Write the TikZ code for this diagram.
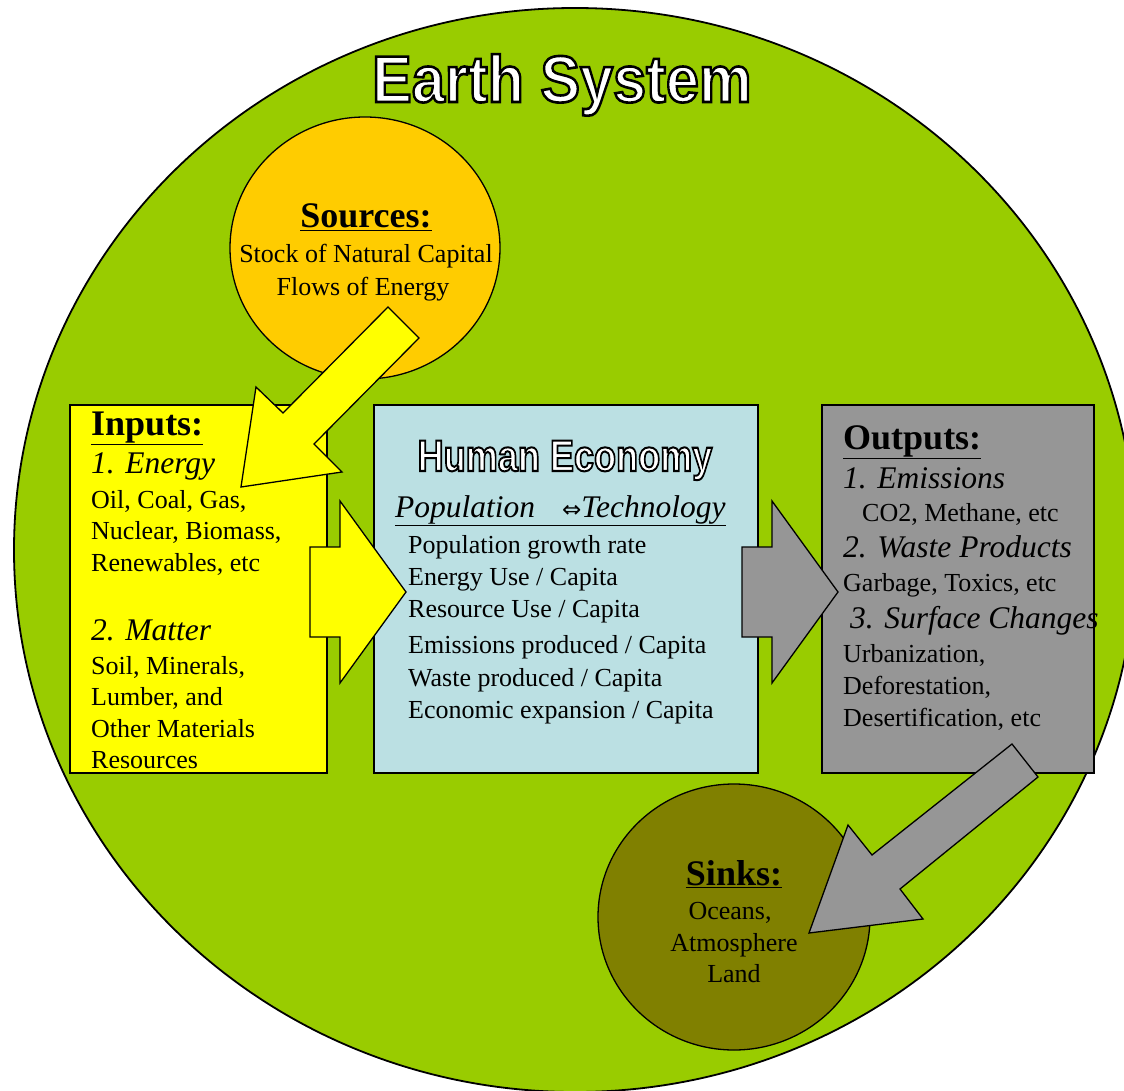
\documentclass[tikz,border=0pt]{standalone}
\usepackage{fontspec}
\setmainfont{Liberation Serif}
\newfontfamily\headfont{Liberation Sans}
\newfontfamily\symfont{DejaVu Sans}
\usetikzlibrary{shapes.geometric}

\definecolor{earthgreen}{HTML}{99CC00}
\definecolor{sourceorange}{HTML}{FFCC00}
\definecolor{inputyellow}{HTML}{FFFF00}
\definecolor{econblue}{HTML}{BBE0E3}
\definecolor{outputgray}{HTML}{969696}
\definecolor{sinkolive}{HTML}{808000}

\newcommand{\bodyfont}{\fontsize{26}{30}\selectfont}
\newcommand{\itemfont}{\fontsize{31.5}{36}\selectfont\itshape}
\newcommand{\titlefont}{\fontsize{36}{40}\selectfont\bfseries}
% white letters with a black rim
\newcommand{\rimtext}[2]{\special{pdf:literal direct 2 Tr #1 w 0 0 0 RG}#2\special{pdf:literal direct 0 Tr}}

\begin{document}
\begin{tikzpicture}[x=1pt, y=-1pt,
    box/.style={rectangle, draw, line width=1.3pt, inner sep=0},
    blob/.style={ellipse, draw, line width=1.3pt, inner sep=0},
    blockarrow/.style={draw, line width=1.3pt, line join=miter},
    body/.style={anchor=base west, inner sep=0, font=\bodyfont},
    item/.style={anchor=base west, inner sep=0, font=\itemfont},
    heading/.style={anchor=base, inner sep=0, font=\titlefont},
    centred/.style={anchor=base, inner sep=0, font=\bodyfont}
]
    \useasboundingbox (0,0) rectangle (1124,1091);
    \clip (0,0) rectangle (1124,1091);

    % Earth
    \draw[fill=earthgreen, line width=1.8pt] (575,550) ellipse [x radius=561, y radius=542];
    \node[text=white, anchor=base, inner sep=0] (earth) at (562,102)
        {\headfont\bfseries\fontsize{66}{70}\selectfont\scalebox{0.9}[1]{\rimtext{2.6}{Earth System}}};

    % Sources and sinks
    \node[blob, fill=sourceorange, minimum width=270, minimum height=262] (sources) at (365,248) {};
    \node[blob, fill=sinkolive, minimum width=272, minimum height=266] (sinks) at (734,917) {};

    % Boxes
    \node[box, fill=inputyellow, minimum width=257, minimum height=368] (inputs) at (198.5,589) {};
    \node[box, fill=econblue, minimum width=384, minimum height=368] (economy) at (566,589) {};
    \node[box, fill=outputgray, minimum width=272, minimum height=368] (outputs) at (958,589) {};

    % Block arrows
    \draw[blockarrow, fill=inputyellow] (388,307) -- (419,338) -- (314,444) -- (342,472)
        -- (241,487) -- (256,387) -- (283,413) -- cycle;
    \draw[blockarrow, fill=inputyellow] (310,547) -- (340,547) -- (340,501) -- (406,592)
        -- (340,683) -- (340,637) -- (310,637) -- cycle;
    \draw[blockarrow, fill=outputgray] (742,547) -- (772,547) -- (772,501) -- (838,592)
        -- (772,683) -- (772,637) -- (742,637) -- cycle;
    \draw[blockarrow, fill=outputgray] (1012,744) -- (1038,777) -- (900,889) -- (923,919)
        -- (809,933) -- (848,825) -- (872,855) -- cycle;

    % Sources text
    \node[heading] (srctitle) at (366,228) {\underline{Sources:}};
    \node[centred] (srcstock) at (366,263) {Stock of Natural Capital};
    \node[centred] (srcflow) at (363,295) {Flows of Energy};

    % Sinks text
    \node[heading] (sinktitle) at (734,885) {\underline{Sinks:}};
    \node[centred] (sinkocean) at (730,919) {Oceans,};
    \node[centred] (sinkatmo) at (734,951) {Atmosphere};
    \node[centred] (sinkland) at (734,982) {Land};

    % Inputs text
    \node[heading, anchor=base west] (intitle) at (91,435) {\underline{Inputs:}};
    \node[item] (inenergy) at (91,473) {1. Energy};
    \node[item] (inmatter) at (91,640) {2. Matter};
    \foreach \yy/\txt [count=\i] in {508/{Oil, Coal, Gas,}, 539/{Nuclear, Biomass,},
        571/{Renewables, etc}, 674/{Soil, Minerals,}, 705/{Lumber, and},
        737/{Other Materials}, 768/{Resources}}
        \node[body] (in\i) at (91,\yy) {\txt};

    % Human economy text
    \node[text=white, anchor=base, inner sep=0] (econtitle) at (565,471)
        {\headfont\bfseries\fontsize{44}{48}\selectfont\scalebox{0.82}[1]{\rimtext{2}{Human Economy}}};
    \node[item] (econpair) at (395,517)
        {\underline{Population\hspace{27pt}{\upshape\symfont\fontsize{23}{24}\selectfont ⇔}Technology}};
    \foreach \yy/\txt [count=\i] in {553/{Population growth rate}, 585/{Energy Use / Capita},
        617/{Resource Use / Capita}, 653/{Emissions produced / Capita},
        686/{Waste produced / Capita}, 718/{Economic expansion / Capita}}
        \node[body] (econ\i) at (408,\yy) {\txt};

    % Outputs text
    \node[heading, anchor=base west] (outtitle) at (843,449) {\underline{Outputs:}};
    \node[item] (outemis) at (843,488) {1. Emissions};
    \node[item] (outwaste) at (843,557) {2. Waste Products};
    \node[item] (outsurf) at (850,628) {3. Surface Changes};
    \node[body] (out1) at (862,521) {CO2, Methane, etc};
    \foreach \yy/\txt [count=\i from 2] in {591/{Garbage, Toxics, etc}, 662/{Urbanization,},
        694/{Deforestation,}, 726/{Desertification, etc}}
        \node[body] (out\i) at (843,\yy) {\txt};
\end{tikzpicture}
\end{document}
